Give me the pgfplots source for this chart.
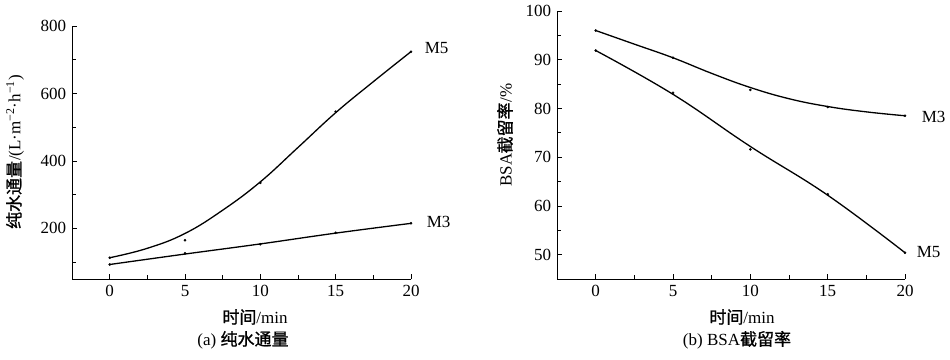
\documentclass[border=0pt]{standalone}
\usepackage{fontspec}
\setmainfont{Liberation Serif}
\newfontfamily\cjk[FakeBold=1]{Noto Sans CJK SC}
\usepackage{pgfplots}
\pgfplotsset{compat=1.18}
\pgfplotsset{
  myax/.style={
    scale only axis,
    axis lines*=left,
    axis line style={line width=0.9pt,-},
    tick align=inside,
    tick style={line width=0.8pt,black},
    major tick length=5pt,
    minor tick length=4pt,
    xmin=-2.5, xmax=20,
    xtick={0,5,10,15,20},
    minor xtick={2.5,7.5,12.5,17.5},
    /pgf/number format/assume math mode=true,
    tick label style={font=\fontsize{17}{20}\selectfont},
    clip=false,
  },
  fit/.style={black, line width=1.3pt, smooth, tension=0.7, no marks},
  pts/.style={black, only marks, mark=*, mark size=1.1pt},
}
\begin{document}
{\fontsize{17}{20}\selectfont
\begin{tikzpicture}[x=1pt,y=1pt]
\path[use as bounding box] (0,0) rectangle (950,-359);
% (a)
\begin{axis}[myax, at={(72pt,-279pt)}, anchor=south west,
  width=339pt, height=253pt,
  ymin=50, ymax=800,
  ytick={200,400,600,800},
  minor ytick={100,300,500,700}]
\addplot[fit] coordinates {(0,113) (2.5,141) (5,185) (7.5,254) (10,338) (12.5,440) (15,543) (17.5,635) (20,724)};
\addplot[pts] coordinates {(0,113) (5,165) (10,335) (15,546) (20,724)};
\addplot[fit] coordinates {(0,93) (5,124) (10,154) (15,186) (20,215)};
\addplot[pts] coordinates {(0,93) (5,126) (10,153) (15,187) (20,215)};
\end{axis}
% (b)
\begin{axis}[myax, at={(557pt,-279pt)}, anchor=south west,
  width=348pt, height=268pt,
  ymin=45, ymax=100,
  ytick={50,60,70,80,90,100},
  minor ytick={55,65,75,85,95}]
\addplot[fit] coordinates {(0,96.0) (2.5,93.2) (5,90.4) (7.5,87.2) (10,84.3) (12.5,82.0) (15,80.4) (17.5,79.3) (20,78.5)};
\addplot[pts] coordinates {(0,96.0) (5,90.4) (10,83.8) (15,80.3) (20,78.5)};
\addplot[fit] coordinates {(0,91.9) (5,82.9) (10,72.2) (15,62.2) (20,50.4)};
\addplot[pts] coordinates {(0,91.9) (5,83.2) (10,71.6) (15,62.4) (20,50.4)};
\end{axis}
% curve labels
\node[anchor=west] at (419,-48) {M5};
\node[anchor=west] at (421,-222) {M3};
\node[anchor=west] at (916,-117) {M3};
\node[anchor=west] at (911,-252) {M5};
% axis labels
\node[rotate=90] at (15,-152) {{\cjk 纯水通量}/(L·m\textsuperscript{−2}·h\textsuperscript{−1})};
\node[rotate=90] at (505,-135) {BSA{\cjk 截留率}/\%};
\node at (255,-317) {{\cjk 时间}/min};
\node at (742,-317) {{\cjk 时间}/min};
\node at (243,-340) {(a) {\cjk 纯水通量}};
\node at (737,-340) {(b) BSA{\cjk 截留率}};
\end{tikzpicture}}
\end{document}
